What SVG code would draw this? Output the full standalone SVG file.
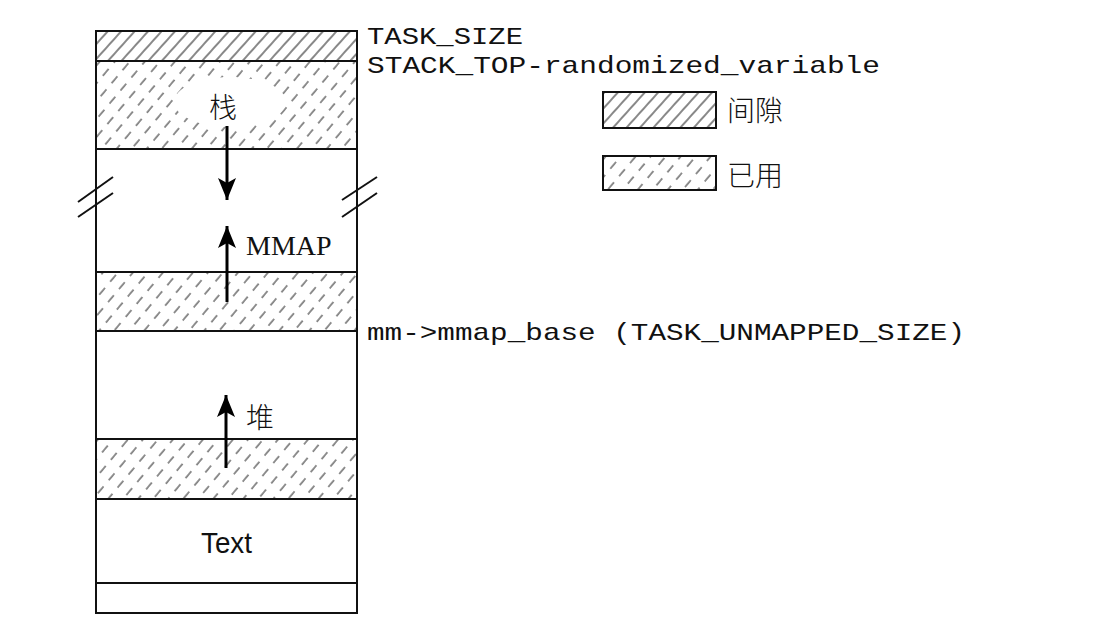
<svg xmlns="http://www.w3.org/2000/svg" width="1113" height="623" viewBox="0 0 1113 623">
<style>
.box{fill:none;stroke:#111;stroke-width:2}
.div{stroke:#111;stroke-width:2}
.mono{font-family:"Liberation Mono","DejaVu Sans Mono",monospace;font-size:24px;fill:#111}
.cjk{font-family:"Noto Sans CJK SC","Noto Sans CJK JP",sans-serif;font-size:28px;font-weight:300;fill:#111}
.serif{font-family:"Liberation Serif","Times New Roman",serif;font-size:28px;fill:#111}
.sans{font-family:"Liberation Sans",Arial,sans-serif;font-size:30px;fill:#111}
.arrow{stroke:#000;stroke-width:3;fill:none;marker-end:url(#head)}
.brk{stroke:#111;stroke-width:2}
</style>
<defs>
<pattern id="gap" width="10" height="10" patternUnits="userSpaceOnUse" patternTransform="rotate(42)">
<line x1="1" y1="0" x2="1" y2="10" stroke="#111" stroke-width="1"/>
</pattern>
<pattern id="used" width="11.5" height="17" patternUnits="userSpaceOnUse" patternTransform="rotate(40)">
<line x1="1" y1="0" x2="1" y2="9" stroke="#222" stroke-width="1"/>
</pattern>
<marker id="head" markerWidth="24" markerHeight="20" refX="22" refY="10" orient="auto" markerUnits="userSpaceOnUse">
<path d="M0,1 L22,10 L0,19 L5,10 Z" fill="#000"/>
</marker>
</defs>

<g id="memory-column">
<g id="gap-top">
<rect x="96" y="31" width="261" height="30" fill="url(#gap)"/>
</g>
<g id="stack-used">
<rect x="96" y="61" width="261" height="88" fill="url(#used)"/>
<ellipse cx="230" cy="102" rx="56" ry="25" fill="#fff"/>
<text class="cjk" x="223" y="118" text-anchor="middle">栈</text>
</g>
<g id="mmap-gap">
<rect x="96" y="149" width="261" height="123" fill="#fff"/>
<text class="serif" x="246" y="255">MMAP</text>
</g>
<g id="mmap-used">
<rect x="96" y="272" width="261" height="59" fill="url(#used)"/>
</g>
<g id="heap-gap">
<rect x="96" y="331" width="261" height="108" fill="#fff"/>
<text class="cjk" x="246" y="428">堆</text>
</g>
<g id="heap-used">
<rect x="96" y="439" width="261" height="60" fill="url(#used)"/>
</g>
<g id="text-seg">
<text class="sans" x="201" y="553" textLength="51" lengthAdjust="spacingAndGlyphs">Text</text>
</g>
<g id="bottom-seg"></g>
<rect class="box" x="96" y="31" width="261" height="582"/>
<line class="div" x1="96" y1="61" x2="357" y2="61"/>
<line class="div" x1="96" y1="149" x2="357" y2="149"/>
<line class="div" x1="96" y1="272" x2="357" y2="272"/>
<line class="div" x1="96" y1="331" x2="357" y2="331"/>
<line class="div" x1="96" y1="439" x2="357" y2="439"/>
<line class="div" x1="96" y1="499" x2="357" y2="499"/>
<line class="div" x1="96" y1="583" x2="357" y2="583"/>
</g>

<g id="breaks">
<line class="brk" x1="78" y1="202" x2="113" y2="177"/>
<line class="brk" x1="78" y1="217" x2="113" y2="193"/>
<line class="brk" x1="342" y1="200" x2="377" y2="177"/>
<line class="brk" x1="342" y1="217" x2="377" y2="193"/>
</g>

<g id="connectors">
<line class="arrow" x1="227" y1="126" x2="227" y2="200"/>
<line class="arrow" x1="227" y1="302" x2="227" y2="226"/>
<line class="arrow" x1="226" y1="468" x2="226" y2="395"/>
</g>

<g id="labels">
<text class="mono" x="367" y="44" textLength="156" lengthAdjust="spacingAndGlyphs">TASK_SIZE</text>
<text class="mono" x="367" y="73" textLength="513" lengthAdjust="spacingAndGlyphs">STACK_TOP-randomized_variable</text>
<text class="mono" x="367" y="340" textLength="598" lengthAdjust="spacingAndGlyphs">mm-&gt;mmap_base (TASK_UNMAPPED_SIZE)</text>
</g>

<g id="legend">
<g id="legend-gap">
<rect x="603" y="92" width="113" height="36" fill="url(#gap)" stroke="#111" stroke-width="2"/>
<text class="cjk" x="727" y="121">间隙</text>
</g>
<g id="legend-used">
<rect x="603" y="156" width="113" height="34" fill="url(#used)" stroke="#111" stroke-width="2"/>
<text class="cjk" x="727" y="186">已用</text>
</g>
</g>
</svg>
